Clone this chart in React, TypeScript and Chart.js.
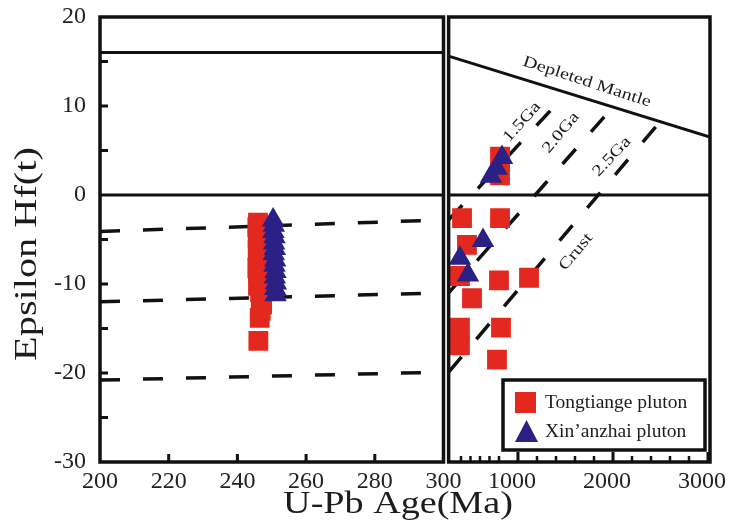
import React, { useEffect, useRef } from 'react';
import { Chart, registerables } from 'chart.js';

Chart.register(...registerables);

const FONT = '"Liberation Serif", "Times New Roman", serif';
const RED = '#e3281f';
const BLUE = '#2b2084';
const INK = '#1c1c1c';

// ---------- zircon data (age Ma, epsilon Hf(t)) ----------
const tongLeftAge = [246.0, 245.8, 246.1, 245.9, 246.2, 245.9, 246.0, 246.3, 245.8, 246.1, 246.4, 246.0, 246.6, 246.9, 247.2, 246.8, 246.5, 246.1];
const tongLeftHf = [-3.1, -3.6, -4.3, -4.9, -5.6, -6.2, -6.9, -7.5, -8.2, -8.8, -9.5, -10.2, -10.9, -11.6, -12.3, -13.0, -13.8, -16.4];
const xinLeftAge = [250.4, 250.6, 250.5, 250.8, 250.7, 250.9, 250.6, 251.0, 250.8, 251.1, 250.9, 251.2, 251.0, 251.1];
const xinLeftHf = [-2.8, -3.4, -4.1, -4.7, -5.4, -6.0, -6.6, -7.3, -7.9, -8.6, -9.2, -9.9, -10.5, -11.2];

const tongRightAge = [411, 811, 463, 800, 1116, 516, 389, 389, 389, 821, 779, 811, 811];
const tongRightHf = [-2.6, -2.6, -5.6, -9.6, -9.3, -11.6, -9.1, -14.9, -16.9, -14.9, -18.5, 4.3, 2.2];
const xinRightAge = [632, 389, 474, 832, 716, 775];
const xinRightHf = [-5.1, -7.1, -9.0, 4.2, 2.1, 3.0];

// ---------- reference lines ----------
const dmLeftAge = [200, 300];
const dmLeftHf = [16.0, 16.0];
const dmRightAge = [270, 3021];
const dmRightHf = [15.6, 6.5];
const churLeftAge = [200, 300];
const churRightAge = [270, 3021];
const churHf = [0, 0];
const crustLeftAge = [200, 300];
const c15LeftHf = [-4.1, -2.8];
const c20LeftHf = [-12.0, -11.0];
const c25LeftHf = [-20.8, -19.9];
const c15RightAge = [270, 1500];
const c15RightHf = [-2.8, 11.3];
const c20RightAge = [270, 2000];
const c20RightHf = [-11.0, 9.9];
const c25RightAge = [270, 2500];
const c25RightHf = [-19.9, 8.3];

// ---------- axes ----------
const yMin = -30;
const yMax = 20;
const yMarks = [15, 10, 5, -5, -10, -15, -20, -25];
const xLeftMin = 200;
const xLeftMax = 300;
const xLeftMarks = [220, 240, 260, 280];
const xRightMin = 216;
const xRightMax = 3021;
const xRightPanelStart = 270;
const xRightTicks = [1000, 2000, 3000];
const xRightMinor = [400, 500, 600, 700, 800, 1200, 1400, 1600, 1800, 2200, 2400, 2600, 2800];

// ---------- labels ----------
const lineLabels = [
  { text: 'Depleted Mantle', age: 1726, hf: 12.7, angle: 18 },
  { text: '1.5Ga', age: 1042, hf: 8.2, angle: -48 },
  { text: '2.0Ga', age: 1453, hf: 7.0, angle: -50 },
  { text: '2.5Ga', age: 1989, hf: 4.3, angle: -47 },
  { text: 'Crust', age: 1611, hf: -6.4, angle: -50 },
];
const legendNames = ['Tongtiange pluton', 'Xin\u2019anzhai pluton'];

const pts = (xs: number[], ys: number[]) => xs.map((x, i) => ({ x, y: ys[i] }));

function drawText(ctx: CanvasRenderingContext2D, s: string, x: number, y: number, angle: number, size: number, sx: number, align: CanvasTextAlign = 'center') {
  ctx.save();
  ctx.translate(x, y);
  ctx.rotate((angle * Math.PI) / 180);
  ctx.scale(sx, 1);
  ctx.font = `${size}px ${FONT}`;
  ctx.fillStyle = INK;
  ctx.textAlign = align;
  ctx.textBaseline = 'middle';
  ctx.fillText(s, 0, 0);
  ctx.restore();
}

const decor = {
  id: 'decor',
  afterDatasetsDraw(chart: any) {
    const ctx: CanvasRenderingContext2D = chart.ctx;
    const { top, bottom } = chart.chartArea;
    const x1 = chart.scales.x1;
    const x2 = chart.scales.x2;
    const y = chart.scales.y;
    ctx.save();
    ctx.strokeStyle = '#111';
    ctx.lineCap = 'butt';
    // frames
    ctx.lineWidth = 3.5;
    const lL = x1.getPixelForValue(xLeftMin);
    const lR = x1.getPixelForValue(xLeftMax);
    const rL = x2.getPixelForValue(xRightPanelStart);
    const rR = x2.getPixelForValue(xRightMax);
    ctx.strokeRect(lL, top, lR - lL, bottom - top);
    ctx.strokeRect(rL, top, rR - rL, bottom - top);
    // ticks
    ctx.lineWidth = 3;
    ctx.beginPath();
    yMarks.forEach((v) => {
      const py = y.getPixelForValue(v);
      ctx.moveTo(lL, py);
      ctx.lineTo(lL + 8, py);
    });
    xLeftMarks.forEach((v) => {
      const px = x1.getPixelForValue(v);
      ctx.moveTo(px, bottom);
      ctx.lineTo(px, bottom - 8);
    });
    xRightTicks.forEach((v) => {
      const px = x2.getPixelForValue(v);
      ctx.moveTo(px, bottom);
      ctx.lineTo(px, bottom - 10);
    });
    ctx.stroke();
    ctx.lineWidth = 2.5;
    ctx.beginPath();
    xRightMinor.forEach((v) => {
      const px = x2.getPixelForValue(v);
      ctx.moveTo(px, bottom);
      ctx.lineTo(px, bottom - 6);
    });
    ctx.stroke();

    // line labels
    lineLabels.forEach((l) => {
      drawText(ctx, l.text, x2.getPixelForValue(l.age), y.getPixelForValue(l.hf), l.angle, 16, 1.25);
    });

    // legend
    const bw = 202;
    const bh = 70;
    const bx = rR - 5 - bw;
    const by = bottom - 12 - bh;
    ctx.fillStyle = '#fff';
    ctx.fillRect(bx, by, bw, bh);
    ctx.lineWidth = 3.5;
    ctx.strokeRect(bx, by, bw, bh);
    ctx.fillStyle = RED;
    ctx.fillRect(bx + 12, by + 12, 21, 21);
    ctx.fillStyle = BLUE;
    ctx.beginPath();
    ctx.moveTo(bx + 23.5, by + 40);
    ctx.lineTo(bx + 35, by + 62);
    ctx.lineTo(bx + 12, by + 62);
    ctx.closePath();
    ctx.fill();
    drawText(ctx, legendNames[0], bx + 42, by + 23, 0, 19.5, 1, 'left');
    drawText(ctx, legendNames[1], bx + 42, by + 52, 0, 19.5, 1, 'left');

    // axis titles
    drawText(ctx, 'Epsilon Hf(t)', 28, 254, -90, 31, 1.3);
    drawText(ctx, 'U-Pb Age(Ma)', 398, 505, 0, 31, 1.23);
    ctx.restore();
  },
};

export default function App() {
  const ref = useRef<HTMLCanvasElement>(null);
  useEffect(() => {
    const lineDs = (xs: number[], ys: number[], axis: string, dashed: boolean) => ({
      data: pts(xs, ys),
      xAxisID: axis,
      yAxisID: 'y',
      showLine: true,
      pointRadius: 0,
      borderColor: '#111',
      borderWidth: dashed ? 3.5 : 3,
      borderDash: dashed ? [20, 23] : [],
      order: 3,
    });
    const tickFont = { family: FONT, size: 24 };
    const plain = (v: any) => String(v);
    const chart = new Chart(ref.current!, {
      type: 'scatter',
      data: {
        datasets: [
          { label: legendNames[1], data: pts(xinLeftAge, xinLeftHf), xAxisID: 'x1', yAxisID: 'y', pointStyle: 'triangle', pointRadius: 13, backgroundColor: BLUE, borderWidth: 0, order: 1 },
          { label: legendNames[1], data: pts(xinRightAge, xinRightHf), xAxisID: 'x2', yAxisID: 'y', pointStyle: 'triangle', pointRadius: 13, backgroundColor: BLUE, borderWidth: 0, order: 1 },
          { label: legendNames[0], data: pts(tongLeftAge, tongLeftHf), xAxisID: 'x1', yAxisID: 'y', pointStyle: 'rect', pointRadius: 14, backgroundColor: RED, borderWidth: 0, order: 2 },
          { label: legendNames[0], data: pts(tongRightAge, tongRightHf), xAxisID: 'x2', yAxisID: 'y', pointStyle: 'rect', pointRadius: 14, backgroundColor: RED, borderWidth: 0, order: 2 },
          lineDs(dmLeftAge, dmLeftHf, 'x1', false),
          lineDs(dmRightAge, dmRightHf, 'x2', false),
          lineDs(churLeftAge, churHf, 'x1', false),
          lineDs(churRightAge, churHf, 'x2', false),
          lineDs(crustLeftAge, c15LeftHf, 'x1', true),
          lineDs(crustLeftAge, c20LeftHf, 'x1', true),
          lineDs(crustLeftAge, c25LeftHf, 'x1', true),
          lineDs(c15RightAge, c15RightHf, 'x2', true),
          lineDs(c20RightAge, c20RightHf, 'x2', true),
          lineDs(c25RightAge, c25RightHf, 'x2', true),
        ] as any,
      },
      options: {
        animation: false,
        responsive: true,
        maintainAspectRatio: false,
        layout: { padding: { left: 0, top: 17, right: 19, bottom: 0 } },
        plugins: { legend: { display: false }, tooltip: { enabled: false } },
        scales: {
          x1: {
            type: 'linear',
            axis: 'x',
            position: 'bottom',
            stack: 'age',
            stackWeight: 343.5,
            min: xLeftMin,
            max: xLeftMax,
            grid: { display: false, drawTicks: false },
            border: { display: false },
            ticks: { stepSize: 20, autoSkip: false, maxRotation: 0, padding: 5, color: '#222', font: tickFont, callback: plain },
            afterFit: (s: any) => { s.height = 67; s.paddingLeft = 0; s.paddingRight = 0; },
          },
          x2: {
            type: 'linear',
            axis: 'x',
            position: 'bottom',
            stack: 'age',
            stackWeight: 266.5,
            min: xRightMin,
            max: xRightMax,
            grid: { display: false, drawTicks: false },
            border: { display: false },
            afterBuildTicks: (s: any) => { s.ticks = xRightTicks.map((v) => ({ value: v })); },
            ticks: { autoSkip: false, maxRotation: 0, padding: 5, labelOffset: -6, color: '#222', font: tickFont, callback: plain },
            afterFit: (s: any) => { s.height = 67; s.paddingLeft = 0; s.paddingRight = 0; },
          },
          y: {
            type: 'linear',
            position: 'left',
            min: yMin,
            max: yMax,
            grid: { display: false, drawTicks: false },
            border: { display: false },
            ticks: { stepSize: 10, padding: 14, color: '#222', font: tickFont, callback: plain },
            afterFit: (s: any) => { s.width = 100; s.paddingTop = 0; s.paddingBottom = 0; },
          },
        } as any,
      },
      plugins: [decor],
    });
    return () => chart.destroy();
  }, []);
  return (
    <div style={{ position: 'absolute', left: 0, top: 0, width: 729, height: 529, background: '#fff' }}>
      <canvas ref={ref} />
    </div>
  );
}
